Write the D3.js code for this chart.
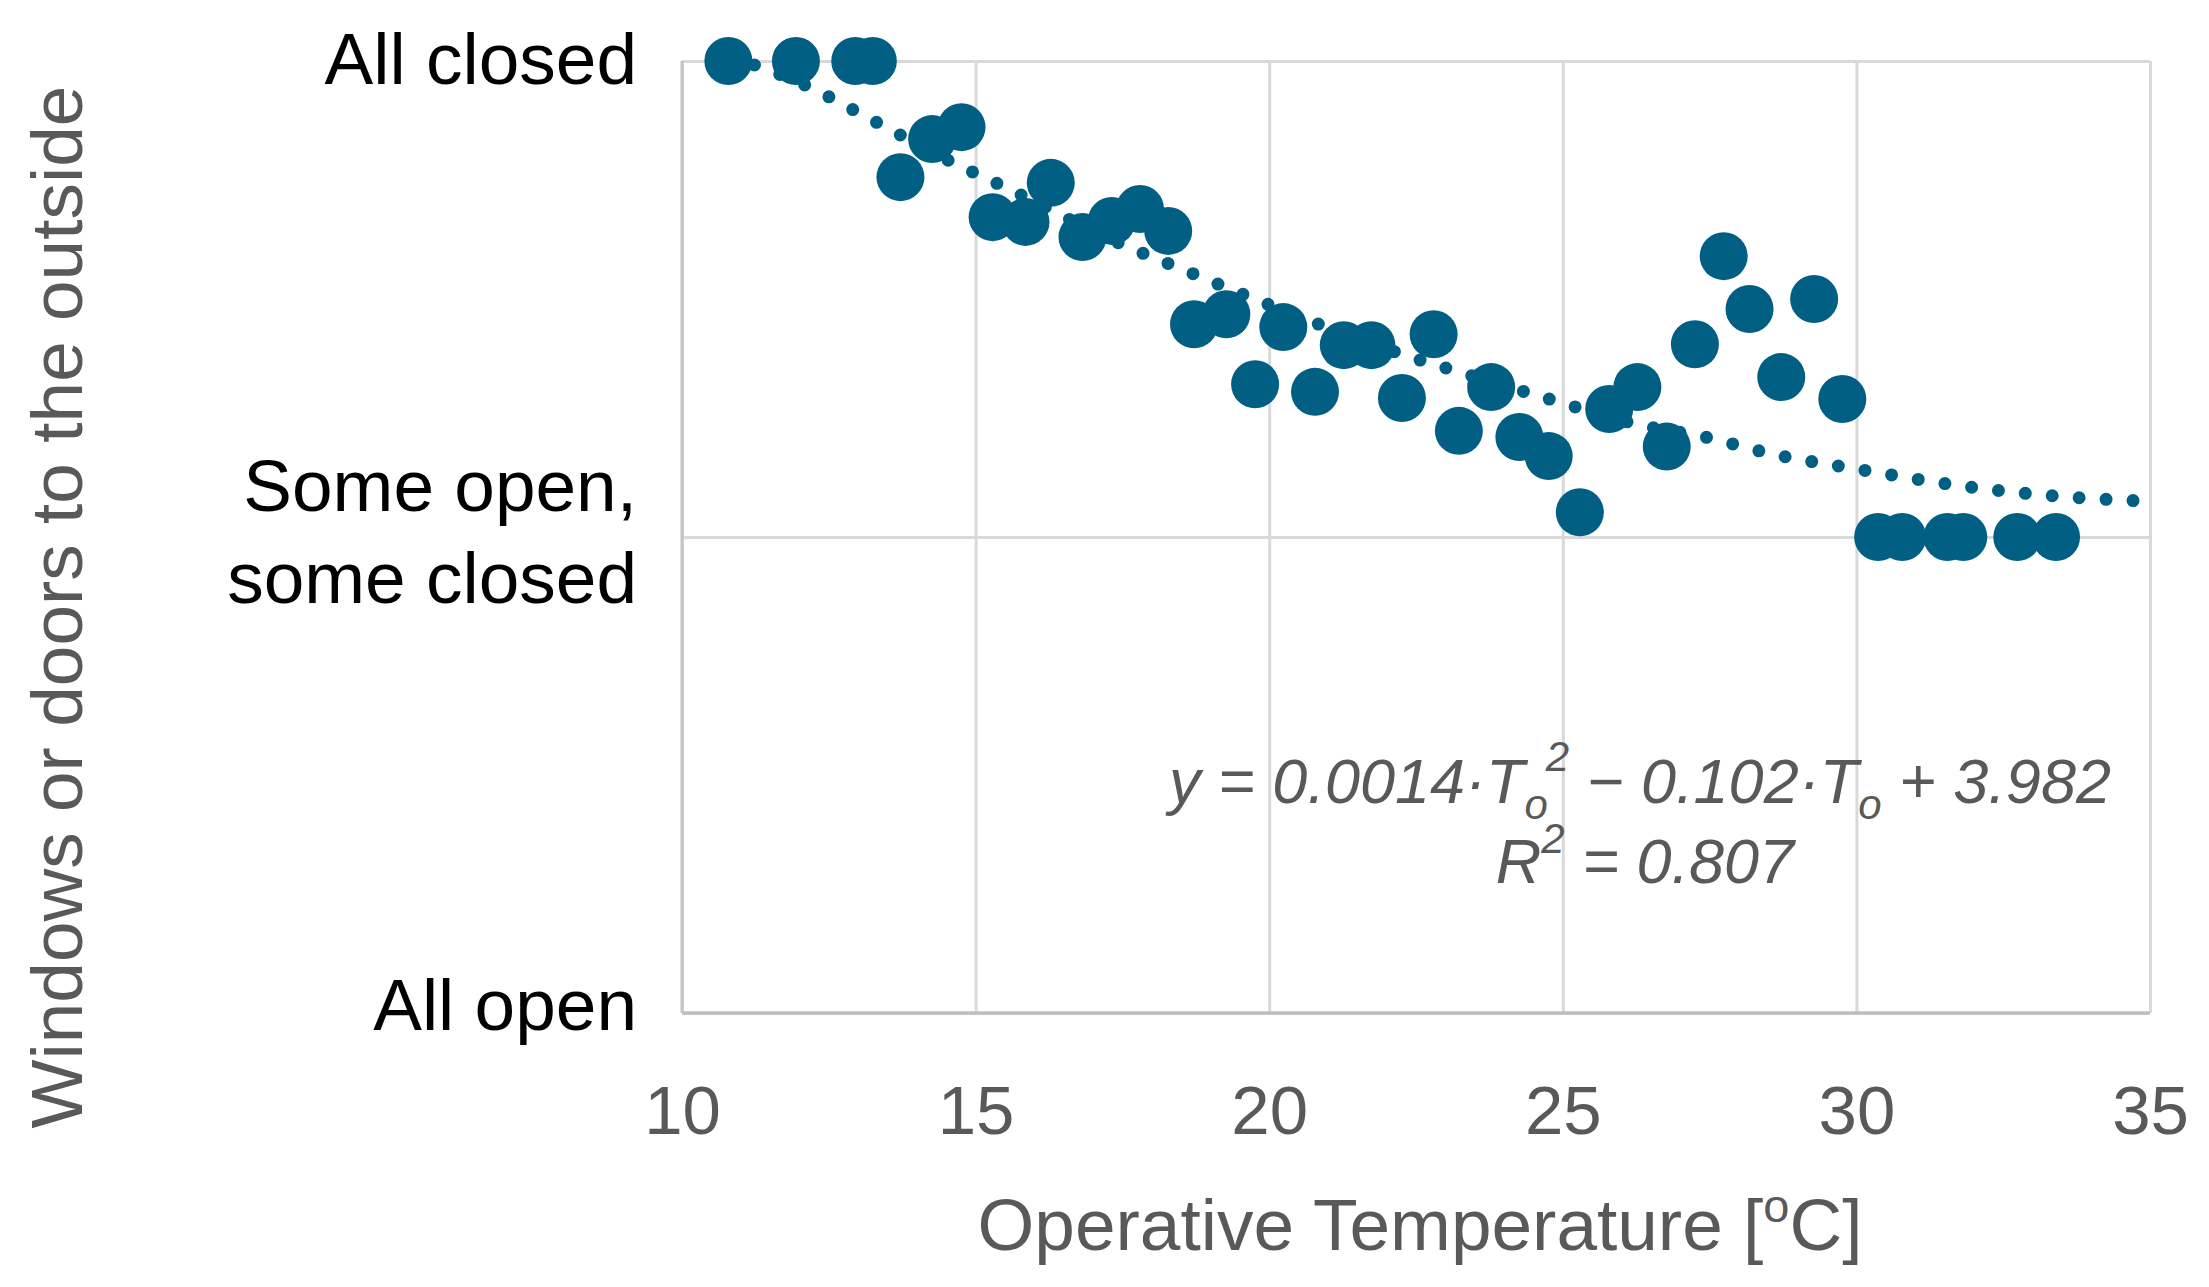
<!DOCTYPE html>
<html>
<head>
<meta charset="utf-8">
<script src="https://cdn.jsdelivr.net/npm/d3@7"></script>
<style>
  html, body { margin: 0; padding: 0; background: #fff; }
  svg { display: block; }
</style>
</head>
<body>
<script>
// ---- data ----
const temperature = [10.79, 11.94, 12.95, 13.25, 13.72, 14.26, 14.76, 15.29, 15.85, 16.28,
  16.82, 17.32, 17.8, 18.28, 18.72, 19.27, 19.76, 20.24, 20.78, 21.27, 21.74, 22.26, 22.8,
  23.23, 23.78, 24.26, 24.76, 25.29, 25.79, 26.27, 26.77, 27.25, 27.74, 28.18, 28.72, 29.28,
  29.76, 30.37, 30.78, 31.55, 31.82, 32.74, 33.4];
const windowState = [3, 3, 3, 3, 2.756, 2.836, 2.861, 2.672, 2.662, 2.744,
  2.63, 2.664, 2.689, 2.643, 2.447, 2.468, 2.321, 2.441, 2.305, 2.403, 2.403, 2.292, 2.426,
  2.223, 2.315, 2.21, 2.17, 2.052, 2.269, 2.315, 2.19, 2.405, 2.59, 2.479, 2.336, 2.5,
  2.29, 2, 2, 2, 2, 2, 2];
const trendT = [10.8, 12.05, 13.3, 14.59, 15.43, 17.56, 18.43, 19.71, 22.36, 23.25, 24.6, 26.4, 27.35, 28.65, 30, 31.93, 33.5, 35];
const trendY = [3.01, 2.952, 2.872, 2.788, 2.739, 2.611, 2.567, 2.502, 2.38, 2.346, 2.296, 2.233, 2.212, 2.172, 2.143, 2.105, 2.085, 2.075];
const xTicks = [10, 15, 20, 25, 30, 35];
const yTicks = [1, 2, 3];
const yTickLabels = [["All open"], ["Some open,", "some closed"], ["All closed"]];
const xTitle = "Operative Temperature [";
const yTitle = "Windows or doors to the outside";

// ---- layout ----
const W = 2209, H = 1287;
const mL = 682, mR = 2150, mT = 61, mB = 1013;
const color = "#005f83";
const font = "'Liberation Sans', Arial, sans-serif";

const svg = d3.select("body").append("svg").attr("width", W).attr("height", H);

const x = d3.scaleLinear().domain([10, 35]).range([mL, mR]);
const y = d3.scaleLinear().domain([1, 3]).range([mB, mT]);

// gridlines
svg.append("g")
  .attr("transform", `translate(0,${mB})`)
  .call(d3.axisBottom(x).tickValues(xTicks).tickSize(-(mB - mT)).tickFormat(""))
  .call(g => g.select(".domain").remove())
  .call(g => g.selectAll(".tick line").attr("stroke", "#d9d9d9").attr("stroke-width", 3));
svg.append("g")
  .attr("transform", `translate(${mL},0)`)
  .call(d3.axisLeft(y).tickValues(yTicks).tickSize(-(mR - mL)).tickFormat(""))
  .call(g => g.select(".domain").remove())
  .call(g => g.selectAll(".tick line").attr("stroke", "#d9d9d9").attr("stroke-width", 3));

// axis lines
svg.append("line").attr("x1", mL).attr("x2", mL).attr("y1", mT).attr("y2", mB)
  .attr("stroke", "#c4c4c4").attr("stroke-width", 3);
svg.append("line").attr("x1", mL).attr("x2", mR).attr("y1", mB).attr("y2", mB)
  .attr("stroke", "#bfbfbf").attr("stroke-width", 3.5);

// x tick labels
svg.append("g")
  .attr("transform", `translate(0,${mB})`)
  .call(d3.axisBottom(x).tickValues(xTicks).tickSize(0).tickPadding(0))
  .call(g => g.select(".domain").remove())
  .call(g => g.selectAll(".tick text")
    .attr("y", 121).attr("dy", null)
    .attr("fill", "#595959")
    .style("font-family", font).style("font-size", "69px"));

// y tick labels
const yAxisG = svg.append("g")
  .attr("transform", `translate(${mL},0)`)
  .call(d3.axisLeft(y).tickValues(yTicks).tickSize(0).tickPadding(0).tickFormat(""))
  .call(g => g.select(".domain").remove());
yAxisG.selectAll(".tick").each(function(d) {
  const i = yTicks.indexOf(d);
  const lines = yTickLabels[i];
  const t = d3.select(this).select("text")
    .attr("x", -45).attr("dy", null)
    .attr("fill", "#000")
    .attr("text-anchor", "end")
    .style("font-family", font).style("font-size", "73px");
  const lh = 92;
  const offs = d === 1 ? 16 : (d === 2 ? 19 : 22);
  lines.forEach((s, k) => {
    t.append("tspan").attr("x", -45)
      .attr("y", offs + (k - (lines.length - 1) / 2) * lh)
      .text(s);
  });
});

// points
svg.append("g").selectAll("circle")
  .data(temperature.map((t, i) => [t, windowState[i]]))
  .join("circle")
  .attr("cx", d => x(d[0]))
  .attr("cy", d => y(d[1]))
  .attr("r", 24)
  .attr("fill", color);

// trend line (round dotted)
const trendLine = d3.line().x(d => x(d[0])).y(d => y(d[1])).curve(d3.curveMonotoneX);
svg.append("path")
  .datum(trendT.map((t, i) => [t, trendY[i]]))
  .attr("d", trendLine)
  .attr("fill", "none")
  .attr("stroke", color)
  .attr("stroke-width", 13)
  .attr("stroke-linecap", "round")
  .attr("stroke-dasharray", "0 27");

// x title
const xt = svg.append("text")
  .attr("x", 1420).attr("y", 1250)
  .attr("text-anchor", "middle")
  .attr("fill", "#595959")
  .style("font-family", font).style("font-size", "73px");
xt.append("tspan").text(xTitle);
xt.append("tspan").attr("dy", -28).style("font-size", "47px").text("o");
xt.append("tspan").attr("dy", 28).text("C]");

// y title
svg.append("text")
  .attr("transform", `translate(82,607) rotate(-90)`)
  .attr("text-anchor", "middle")
  .attr("fill", "#595959")
  .style("font-family", font).style("font-size", "73px")
  .text(yTitle);

// trend equation
const eq = svg.append("text")
  .attr("x", 1640).attr("y", 803)
  .attr("text-anchor", "middle")
  .attr("fill", "#595959")
  .style("font-family", font).style("font-size", "63px").style("font-style", "italic");
eq.append("tspan").text("y = 0.0014·T");
eq.append("tspan").attr("dy", 16).style("font-size", "42px").text("o");
eq.append("tspan").attr("dy", -48).attr("dx", -2).style("font-size", "42px").text("2");
eq.append("tspan").attr("dy", 32).text(" − 0.102·T");
eq.append("tspan").attr("dy", 16).style("font-size", "42px").text("o");
eq.append("tspan").attr("dy", -16).text(" + 3.982");

const r2 = svg.append("text")
  .attr("x", 1645).attr("y", 883)
  .attr("text-anchor", "middle")
  .attr("fill", "#595959")
  .style("font-family", font).style("font-size", "63px").style("font-style", "italic");
r2.append("tspan").text("R");
r2.append("tspan").attr("dy", -30).style("font-size", "42px").text("2");
r2.append("tspan").attr("dy", 30).text(" = 0.807");
</script>
</body>
</html>
